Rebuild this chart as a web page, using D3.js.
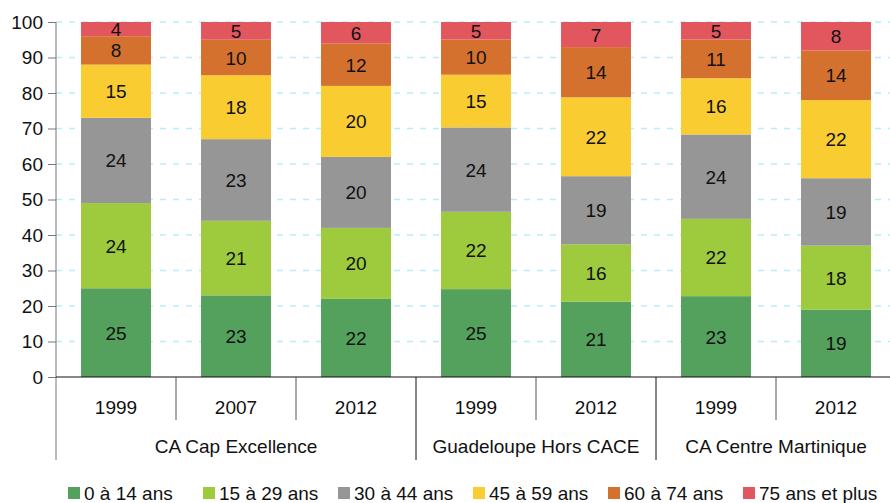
<!DOCTYPE html>
<html>
<head>
<meta charset="utf-8">
<script src="https://cdn.jsdelivr.net/npm/d3@7"></script>
<style>
  body { margin: 0; background: #fff; }
  svg { font-family: "Liberation Sans", Arial, sans-serif; }
</style>
</head>
<body>
<svg width="890" height="503"></svg>
<script>
// categories (year, group)
var years = ["1999", "2007", "2012", "1999", "2012", "1999", "2012"]
var groups = ["CA Cap Excellence", "CA Cap Excellence", "CA Cap Excellence",
    "Guadeloupe Hors CACE", "Guadeloupe Hors CACE",
    "CA Centre Martinique", "CA Centre Martinique"]
var ageClasses = ["0 à 14 ans", "15 à 29 ans", "30 à 44 ans", "45 à 59 ans", "60 à 74 ans", "75 ans et plus"]

// shares (%) per age class, one value per bar
var age0_14 = [25, 23, 22, 25, 21, 23, 19]
var age15_29 = [24, 21, 20, 22, 16, 22, 18]
var age30_44 = [24, 23, 20, 24, 19, 24, 19]
var age45_59 = [15, 18, 20, 15, 22, 16, 22]
var age60_74 = [8, 10, 12, 10, 14, 11, 14]
var age75 = [4, 5, 6, 5, 7, 5, 8]
var yTicks = [0, 10, 20, 30, 40, 50, 60, 70, 80, 90, 100]

var colors = ["#54a15e", "#9ecb3d", "#969696", "#f9cd32", "#d5712f", "#e2575e"]
var fs = 19

var series = [age0_14, age15_29, age30_44, age45_59, age60_74, age75]
var rows = years.map((y, i) => {
    var r = { key: i }
    ageClasses.forEach((a, j) => { r[a] = series[j][i] })
    return r
})

var svg = d3.select("svg")

var x = d3.scaleBand()
    .domain(d3.range(years.length))
    .range([56, 896])
    .paddingInner(0.417)
    .paddingOuter(0.2085)

var y = d3.scaleLinear().domain([0, 100]).range([377, 22])

// gridlines
svg.append("g")
    .selectAll("line")
    .data(yTicks.filter(d => d > 0))
    .enter().append("line")
    .attr("x1", 56).attr("x2", 890)
    .attr("y1", d => y(d)).attr("y2", d => y(d))
    .attr("stroke", "#b8eefb")
    .attr("stroke-width", 1.3)
    .attr("stroke-dasharray", "6,7")

// stacked bars (normalised to 100)
var stack = d3.stack().keys(ageClasses).offset(d3.stackOffsetExpand)
var layers = stack(rows)

var layer = svg.append("g")
    .selectAll("g")
    .data(layers)
    .enter().append("g")
    .attr("fill", (d, i) => colors[i])

layer.selectAll("rect")
    .data(d => d)
    .enter().append("rect")
    .attr("x", d => x(d.data.key))
    .attr("width", x.bandwidth())
    .attr("y", d => y(d[1] * 100))
    .attr("height", d => y(d[0] * 100) - y(d[1] * 100))

layers.forEach(l => {
    svg.append("g")
        .selectAll("text")
        .data(l)
        .enter().append("text")
        .attr("x", d => x(d.data.key) + x.bandwidth() / 2)
        .attr("y", d => y((d[0] + d[1]) * 50) + 7)
        .attr("text-anchor", "middle")
        .attr("font-size", fs)
        .attr("fill", "#111")
        .text(d => d.data[l.key])
})

// y axis
var yAxis = svg.append("g")
    .attr("transform", "translate(56,0)")
    .call(d3.axisLeft(y).tickValues(yTicks).tickSize(8).tickPadding(5))
yAxis.select(".domain").remove()
yAxis.selectAll(".tick line").attr("stroke", "#777")
yAxis.selectAll("text").attr("font-size", fs).attr("fill", "#111")
    .attr("font-family", "Liberation Sans, Arial, sans-serif")
svg.append("line")
    .attr("x1", 56).attr("x2", 56)
    .attr("y1", y(100)).attr("y2", 460)
    .attr("stroke", "#777")

// x axis
svg.append("line")
    .attr("x1", 56).attr("x2", 896)
    .attr("y1", y(0)).attr("y2", y(0))
    .attr("stroke", "#111")

var step = x.step()
var start = x.range()[0]
d3.range(1, years.length).forEach(i => {
    var isGroup = groups[i] !== groups[i - 1]
    svg.append("line")
        .attr("x1", start + i * step).attr("x2", start + i * step)
        .attr("y1", y(0)).attr("y2", isGroup ? 460 : 420)
        .attr("stroke", isGroup ? "#111" : "#555")
})

svg.append("g")
    .selectAll("text")
    .data(years)
    .enter().append("text")
    .attr("x", (d, i) => x(i) + x.bandwidth() / 2)
    .attr("y", 414)
    .attr("text-anchor", "middle")
    .attr("font-size", fs)
    .attr("fill", "#111")
    .text(d => d)

var groupNames = Array.from(new Set(groups))
svg.append("g")
    .selectAll("text")
    .data(groupNames)
    .enter().append("text")
    .attr("x", g => {
        var idx = d3.range(groups.length).filter(i => groups[i] === g)
        return start + (idx[0] + idx[idx.length - 1] + 1) / 2 * step
    })
    .attr("y", 453)
    .attr("text-anchor", "middle")
    .attr("font-size", fs)
    .attr("fill", "#111")
    .text(d => d)

// legend, evenly spaced items
var legend = svg.append("g")
ageClasses.forEach((a, i) => {
    var lx = 68 + i * 135
    legend.append("rect")
        .attr("x", lx).attr("y", 487)
        .attr("width", 12).attr("height", 12)
        .attr("fill", colors[i])
    legend.append("text")
        .attr("x", lx + 16).attr("y", 500)
        .attr("font-size", fs)
        .attr("fill", "#111")
        .text(a)
})
</script>
</body>
</html>
